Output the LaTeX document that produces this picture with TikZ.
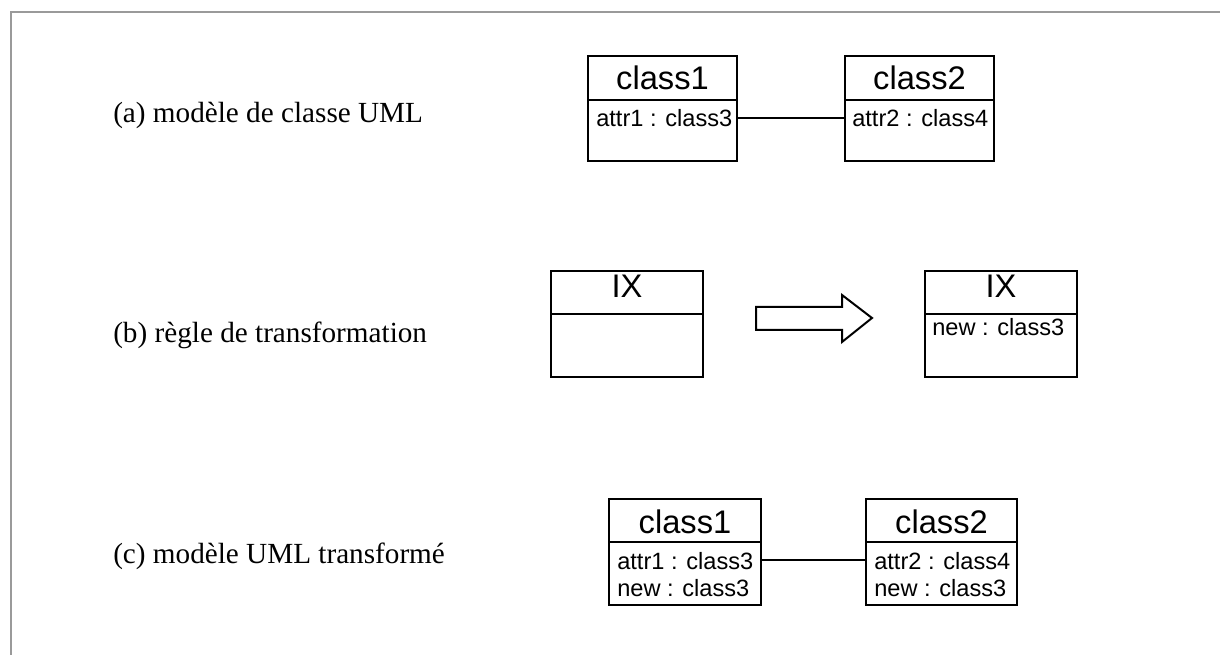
\documentclass[tikz,border=0pt]{standalone}
\usepackage{fontspec}
\setmainfont{Liberation Serif}
\setsansfont{Liberation Sans}
\usetikzlibrary{fit}
\definecolor{framegray}{HTML}{9A9A9A}
\begin{document}
\begin{tikzpicture}[x=0.75pt,y=-0.75pt,
  umlbox/.style={draw=black,line width=1.5pt,rectangle,inner sep=0pt,outer sep=0pt},
  divider/.style={draw=black,line width=1.5pt},
  assoc/.style={draw=black,line width=1.5pt},
  caption/.style={anchor=base west,inner sep=0pt,font=\fontsize{21.9}{26}\selectfont},
  cname/.style={anchor=base,inner sep=0pt,font=\sffamily\fontsize{24.5}{29}\selectfont},
  attr/.style={anchor=base west,inner sep=0pt,font=\sffamily\fontsize{17.7}{21}\selectfont},
  bigarrow/.style={draw=black,line width=1.5pt,fill=white,line join=miter}]
\useasboundingbox (0,0) rectangle (1220,655);
% frame
\draw[framegray,line width=1.5pt] (11,655) -- (11,12) -- (1220,12);

% captions
\node[caption] (capa) at (113,123) {(a) modèle de classe UML};
\node[caption] (capb) at (113,343) {(b) règle de transformation};
\node[caption] (capc) at (113,563) {(c) modèle UML transformé};

% (a)
\node[umlbox,fit={(588,56) (737,161)}] (a1) {};
\node[umlbox,fit={(845,56) (994,161)}] (a2) {};
\draw[divider] (a1.west |- 0,100) -- (a1.east |- 0,100);
\draw[divider] (a2.west |- 0,100) -- (a2.east |- 0,100);
\node[cname] (a1n) at (a1.center |- 0,90) {class1};
\node[cname] (a2n) at (a2.center |- 0,90) {class2};
\node[attr] (a1a) at (596,127) {attr1 : class3};
\node[attr] (a2a) at (852,127) {attr2 : class4};
\draw[assoc] (a1.east |- 0,118) -- (a2.west |- 0,118);

% (b)
\node[umlbox,fit={(551,271) (703,377)}] (b1) {};
\node[umlbox,fit={(925,271) (1077,377)}] (b2) {};
\draw[divider] (b1.west |- 0,314) -- (b1.east |- 0,314);
\draw[divider] (b2.west |- 0,314) -- (b2.east |- 0,314);
\node[cname] (b1n) at (b1.center |- 0,298) {IX};
\node[cname] (b2n) at (b2.center |- 0,298) {IX};
\node[attr] (b2a) at (932,336) {new : class3};
\draw[bigarrow] (756,307) -- (842,307) -- (842,295) -- (872,318) -- (842,342) -- (842,330) -- (756,330) -- cycle;

% (c)
\node[umlbox,fit={(609,499) (761,605)}] (c1) {};
\node[umlbox,fit={(866,499) (1017,605)}] (c2) {};
\draw[divider] (c1.west |- 0,542) -- (c1.east |- 0,542);
\draw[divider] (c2.west |- 0,542) -- (c2.east |- 0,542);
\node[cname] (c1n) at (c1.center |- 0,533) {class1};
\node[cname] (c2n) at (c2.center |- 0,533) {class2};
\node[attr] (c1a) at (617,569) {attr1 : class3};
\node[attr] (c1b) at (617,596) {new : class3};
\node[attr] (c2a) at (874,569) {attr2 : class4};
\node[attr] (c2b) at (874,596) {new : class3};
\draw[assoc] (c1.east |- 0,560) -- (c2.west |- 0,560);
\end{tikzpicture}
\end{document}
